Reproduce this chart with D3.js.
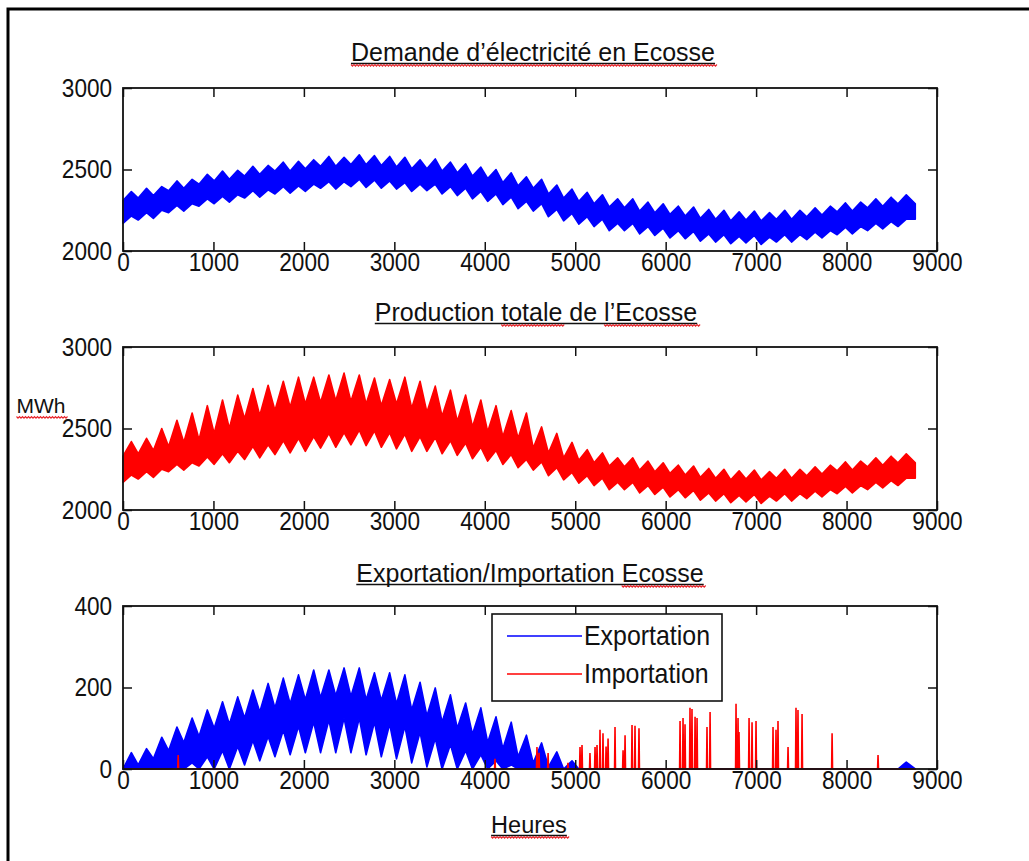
<!DOCTYPE html>
<html lang="fr">
<head>
<meta charset="UTF-8">
<title>Ecosse : demande, production, échanges</title>
<script src="https://d3js.org/d3.v7.min.js"></script>
<style>
  body { margin: 0; background: #fff; }
  svg text { fill: #111; font-family: "Liberation Sans", Arial, sans-serif; }
</style>
</head>
<body>
<div id="chart"></div>
<script>
// valeurs hebdomadaires (MWh), 52 semaines de 168 h
// sommet = pointe de la semaine, sommetWE = creux du haut de bande
// fond = bas de bande en semaine, fondWE = bas de bande le week-end
const demandeSommet = [2365,2385,2395,2430,2440,2470,2490,2495,2520,2525,2545,2550,2560,2580,2575,2590,2585,2580,2575,2560,2565,2545,2535,2515,2500,2480,2455,2440,2405,2380,2360,2345,2320,2320,2300,2290,2275,2270,2255,2250,2240,2245,2235,2250,2250,2265,2275,2295,2300,2320,2330,2345];
const demandeSommetWE = [2310,2325,2340,2370,2385,2410,2430,2440,2460,2470,2490,2490,2505,2520,2520,2530,2530,2525,2515,2505,2505,2490,2480,2460,2445,2420,2400,2385,2350,2325,2305,2290,2270,2265,2245,2235,2225,2215,2200,2195,2185,2190,2185,2195,2195,2210,2220,2240,2245,2265,2275,2290];
const demandeFond = [2215,2235,2250,2280,2290,2320,2335,2345,2370,2375,2395,2400,2410,2425,2425,2440,2435,2430,2420,2410,2410,2395,2385,2365,2350,2330,2305,2290,2255,2230,2210,2195,2170,2170,2150,2140,2125,2120,2105,2100,2090,2095,2085,2100,2100,2115,2125,2145,2150,2170,2180,2195];
const demandeFondWE = [2170,2190,2200,2235,2245,2275,2290,2300,2325,2330,2350,2355,2365,2385,2380,2395,2390,2385,2380,2365,2370,2350,2340,2320,2305,2285,2260,2245,2210,2185,2165,2150,2125,2125,2105,2095,2080,2075,2060,2055,2045,2050,2040,2055,2055,2070,2080,2100,2105,2125,2135,2150];

const productionSommet = [2420,2440,2500,2550,2595,2640,2675,2705,2745,2765,2790,2815,2815,2828,2840,2828,2810,2800,2815,2790,2760,2735,2705,2675,2640,2610,2595,2510,2470,2415,2370,2350,2320,2320,2300,2290,2275,2270,2255,2250,2240,2245,2235,2250,2250,2265,2275,2295,2300,2320,2330,2345];
const productionSommetWE = [2330,2345,2365,2390,2415,2430,2470,2500,2560,2580,2610,2630,2650,2660,2670,2665,2650,2640,2650,2625,2600,2575,2545,2510,2480,2450,2440,2380,2350,2320,2305,2290,2270,2265,2245,2235,2225,2215,2200,2195,2185,2190,2185,2195,2195,2210,2220,2240,2245,2265,2275,2290];
const productionFond = [2215,2235,2250,2280,2290,2325,2345,2360,2390,2400,2425,2440,2450,2470,2475,2490,2485,2475,2465,2450,2445,2425,2410,2385,2365,2340,2310,2295,2260,2230,2210,2195,2170,2170,2150,2140,2125,2120,2105,2100,2090,2095,2085,2100,2100,2115,2125,2145,2150,2170,2180,2195];
const productionFondWE = [2170,2190,2200,2235,2245,2270,2280,2290,2310,2320,2340,2350,2360,2380,2385,2400,2395,2385,2375,2360,2360,2345,2335,2315,2300,2280,2260,2245,2210,2185,2165,2150,2125,2125,2105,2095,2080,2075,2060,2055,2045,2050,2040,2055,2055,2070,2080,2100,2105,2125,2135,2150];

const exportSommet = [40,50,78,103,125,145,165,177,194,210,223,231,243,243,248,248,236,236,231,213,199,182,162,150,128,115,83,64,42,20,0,0,0,0,0,0,0,0,0,0,0,0,0,0,0,0,0,0,0,0,0,17];
const exportSommetWE = [0,10,25,45,65,80,100,110,125,140,150,160,170,175,180,178,170,168,160,145,130,115,100,85,65,50,30,15,5,0,0,0,0,0,0,0,0,0,0,0,0,0,0,0,0,0,0,0,0,0,0,0];
const exportFond = [0,0,0,5,15,30,45,55,70,80,95,105,115,120,125,125,115,110,105,90,75,60,45,35,20,10,0,0,0,0,0,0,0,0,0,0,0,0,0,0,0,0,0,0,0,0,0,0,0,0,0,0];
const exportFondWE = [0,0,0,0,0,0,0,0,10,20,30,35,40,40,40,40,35,30,25,15,5,0,0,0,0,0,0,0,0,0,0,0,0,0,0,0,0,0,0,0,0,0,0,0,0,0,0,0,0,0,0,0];

// pics d'importation (heure, MWh)
const importHeures = [610,4113,4577,4600,4700,4920,5053,5075,5163,5219,5241,5274,5307,5341,5363,5440,5529,5551,5628,5661,5705,6159,6192,6214,6269,6291,6325,6347,6457,6491,6778,6800,6811,6922,6955,6999,7187,7220,7242,7353,7441,7463,7508,7840,8348];
const importValeurs = [34,25,54,40,39,15,54,59,39,54,59,96,88,55,75,103,46,83,108,106,100,118,125,110,150,147,128,125,103,140,160,125,91,125,115,118,103,96,118,54,150,145,135,88,34];

const xTicks = [0,1000,2000,3000,4000,5000,6000,7000,8000,9000];
const semaines = d3.range(52);
const heuresAn = 8760;

// forme d'une semaine : [phase, haut = pointe ?, bas = creux ?]
const formeTriangle = [[0.0, false, true], [0.55, true, false]];

const largeur = 1029, hauteur = 861;
const svg = d3.select("#chart").append("svg")
    .attr("width", largeur)
    .attr("height", hauteur);
svg.append("rect").attr("width", largeur).attr("height", hauteur).attr("fill", "#fff");

// cadre du document
svg.append("path")
    .attr("d", "M8,861 L8,9 L1029,9")
    .attr("fill", "none")
    .attr("stroke", "#000")
    .attr("stroke-width", 3);

const x = d3.scaleLinear().domain([0, 9000]).range([123, 937]);

function bande(sommet, sommetWE, fond, fondWE, forme) {
    const pts = [[0, fond[0], sommetWE[0]]];
    semaines.forEach(s => {
        forme.forEach(([ph, pointe, creux]) => {
            pts.push([(s + ph) * 168, creux ? fondWE[s] : fond[s], pointe ? sommet[s] : sommetWE[s]]);
        });
    });
    pts.push([heuresAn, fond[51], sommetWE[51]]);
    return pts.filter(d => d[0] <= heuresAn);
}

function panneau(top, bottom, domaine) {
    const y = d3.scaleLinear().domain(domaine).range([bottom, top]);
    const g = svg.append("g");
    return { g, y, top, bottom };
}

function axes(p, yTicks) {
    const g = p.g.append("g");
    g.append("g").attr("transform", `translate(0,${p.bottom})`)
        .call(d3.axisBottom(x).tickValues(xTicks).tickSize(-9).tickPadding(2).tickFormat(d3.format("d")));
    g.append("g").attr("transform", `translate(0,${p.top})`)
        .call(d3.axisTop(x).tickValues(xTicks).tickSize(-9).tickFormat(""));
    g.append("g").attr("transform", `translate(123,0)`)
        .call(d3.axisLeft(p.y).tickValues(yTicks).tickSize(-9).tickPadding(12.5).tickFormat(d3.format("d")));
    g.append("g").attr("transform", `translate(937,0)`)
        .call(d3.axisRight(p.y).tickValues(yTicks).tickSize(-9).tickFormat(""));
    g.selectAll(".domain").remove();
    g.selectAll(".tick line").attr("stroke", "#111").attr("stroke-width", 1.5);
    g.selectAll("g").attr("font-size", 26).attr("font-family", null);
    g.selectAll(".tick text").attr("transform", "scale(0.87,1)").attr("fill", "#111");
    g.append("rect")
        .attr("x", 123).attr("y", p.top)
        .attr("width", 937 - 123).attr("height", p.bottom - p.top)
        .attr("fill", "none").attr("stroke", "#111").attr("stroke-width", 1.8);
}

function dessinerBande(p, pts, couleur) {
    const aire = d3.area()
        .x(d => x(d[0]))
        .y0(d => p.y(d[1]))
        .y1(d => p.y(d[2]));
    p.g.append("path")
        .attr("d", aire(pts))
        .attr("fill", couleur)
        .attr("stroke", couleur)
        .attr("stroke-width", 1.6)
        .attr("stroke-linejoin", "round");
}

function vague(x1, x2, yy) {
    let d = `M${x1},${yy}`;
    for (let xx = x1; xx < x2; xx += 3) d += ` L${xx + 1.5},${yy + 1.6} L${xx + 3},${yy}`;
    svg.append("path").attr("d", d).attr("fill", "none")
        .attr("stroke", "#e8242a").attr("stroke-width", 1.1);
}

function titre(texte, cx, base, taille, rouges, souligne) {
    const t = svg.append("text")
        .attr("x", cx).attr("y", base)
        .attr("text-anchor", "middle")
        .attr("font-size", taille)
        .text(texte);
    const n = t.node();
    const len = n.getComputedTextLength();
    if (souligne) {
        svg.append("line")
            .attr("x1", cx - len / 2).attr("x2", cx + len / 2)
            .attr("y1", base + 2.5).attr("y2", base + 2.5)
            .attr("stroke", "#111").attr("stroke-width", 1.4);
    }
    rouges.forEach(([i, j]) => {
        const a = n.getStartPositionOfChar(i).x;
        const b = n.getEndPositionOfChar(j).x;
        vague(a, b, base + 3.5);
    });
}

// 1. demande
const p1 = panneau(88, 251, [2000, 3000]);
dessinerBande(p1, bande(demandeSommet, demandeSommetWE, demandeFond, demandeFondWE, formeTriangle), "#0000ff");
axes(p1, [2000, 2500, 3000]);

// 2. production
const p2 = panneau(347, 510, [2000, 3000]);
dessinerBande(p2, bande(productionSommet, productionSommetWE, productionFond, productionFondWE, formeTriangle), "#ff0000");
axes(p2, [2000, 2500, 3000]);

// 3. échanges
const p3 = panneau(606, 769, [0, 400]);
dessinerBande(p3, bande(exportSommet, exportSommetWE, exportFond, exportFondWE, formeTriangle), "#0000ff");

const ptsImport = [[0, 0]];
importHeures.forEach((h, i) => {
    ptsImport.push([h - 5, 0], [h, importValeurs[i]], [h + 5, 0]);
});
ptsImport.push([heuresAn, 0]);
p3.g.append("path")
    .attr("d", d3.line().x(d => x(d[0])).y(d => p3.y(d[1]))(ptsImport))
    .attr("fill", "none")
    .attr("stroke", "#ff0000")
    .attr("stroke-width", 1.6);
axes(p3, [0, 200, 400]);

// légende
const leg = svg.append("g");
leg.append("rect")
    .attr("x", 492).attr("y", 614).attr("width", 230).attr("height", 87)
    .attr("fill", "#fff").attr("stroke", "#111").attr("stroke-width", 1.6);
[["Exportation", "#0000ff", 636], ["Importation", "#ff0000", 674]].forEach(([nom, c, yy]) => {
    leg.append("line").attr("x1", 507).attr("x2", 582).attr("y1", yy).attr("y2", yy)
        .attr("stroke", c).attr("stroke-width", 1.4);
    leg.append("text")
        .attr("transform", `translate(584,${yy + 9}) scale(0.89,1)`)
        .attr("font-size", 28)
        .text(nom);
});

// titres et étiquettes
titre("Demande d’électricité en Ecosse", 533, 61, 25, [[0, 30]], true);
titre("Production totale de l’Ecosse", 536, 321, 25, [[11, 16], [21, 28]], true);
titre("Exportation/Importation Ecosse", 530, 582, 25, [[24, 29]], true);
titre("MWh", 41, 413, 21, [[0, 2]], false);
titre("Heures", 529, 833, 23.5, [[0, 5]], true);
</script>
</body>
</html>
